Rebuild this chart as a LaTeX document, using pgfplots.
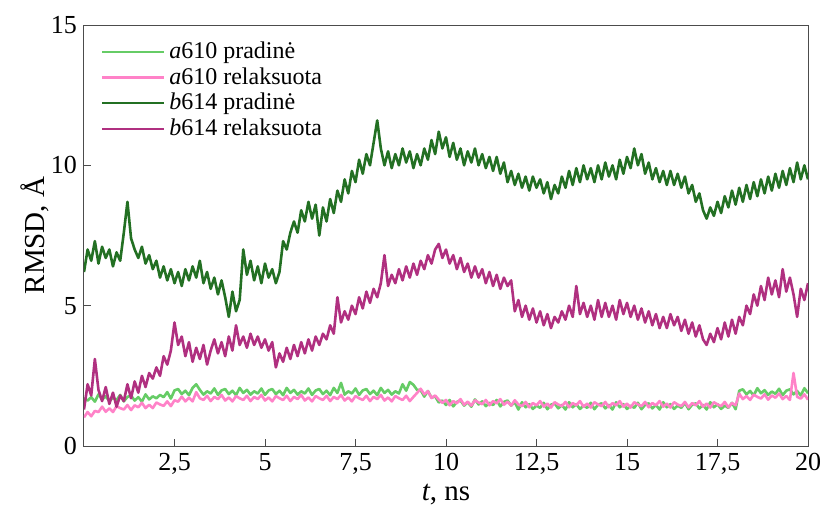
\documentclass[border=0pt]{standalone}
\usepackage{fontspec}
\setmainfont{Liberation Serif}
\usepackage{pgfplots}
\usepackage{pgfplotstable}
\pgfplotsset{compat=1.18}

\definecolor{aPrad}{RGB}{102,204,102}
\definecolor{aRel}{RGB}{255,130,200}
\definecolor{bPrad}{RGB}{35,112,35}
\definecolor{bRel}{RGB}{176,48,128}

% RMSD (angstrom) vs simulation time t (ns)
\pgfplotstableread{
t     a1    a2    b1    b2
0.0   1.70  1.02  6.2   1.3
0.1   1.62  1.21  7.0   2.2
0.2   1.74  1.06  6.6   1.8
0.3   1.58  1.25  7.3   3.1
0.4   1.84  1.21  6.5   2.0
0.5   1.66  1.40  7.1   1.6
0.6   1.77  1.22  6.7   2.1
0.7   1.60  1.34  7.0   1.5
0.8   1.72  1.21  6.4   1.9
0.9   1.64  1.42  6.9   1.4
1.0   1.82  1.35  6.6   1.8
1.1   1.59  1.30  7.6   1.6
1.2   1.75  1.46  8.7   2.2
1.3   1.80  1.28  7.4   1.7
1.4   1.62  1.45  7.0   2.3
1.5   1.74  1.38  6.7   1.9
1.6   1.58  1.54  7.1   2.5
1.7   1.84  1.35  6.5   2.1
1.8   1.66  1.47  6.8   2.6
1.9   1.77  1.35  6.3   2.4
2.0   1.70  1.55  6.6   2.8
2.1   1.82  1.48  6.0   2.5
2.2   1.74  1.43  6.4   3.2
2.3   1.92  1.59  5.9   2.9
2.4   1.69  1.42  6.3   3.4
2.5   1.98  1.63  5.8   4.4
2.6   2.03  1.58  6.2   3.6
2.7   1.85  1.76  5.7   3.9
2.8   1.97  1.59  6.3   3.2
2.9   1.81  1.72  5.9   3.7
3.0   2.07  1.59  6.4   3.0
3.1   2.20  1.92  6.0   3.5
3.2   2.00  1.70  6.6   3.1
3.3   1.83  1.64  5.8   3.6
3.4   1.95  1.79  6.2   2.9
3.5   1.87  1.60  5.6   3.4
3.6   2.05  1.75  6.0   3.8
3.7   1.82  1.67  5.4   3.3
3.8   1.98  1.82  5.9   3.7
3.9   2.03  1.62  5.3   3.2
4.0   1.85  1.73  4.6   3.9
4.1   1.97  1.59  5.5   3.4
4.2   1.81  1.78  4.8   4.3
4.3   2.07  1.70  5.2   3.6
4.4   1.89  1.64  7.0   3.9
4.5   2.00  1.79  6.1   3.5
4.6   1.83  1.60  6.6   4.0
4.7   1.95  1.75  5.9   3.6
4.8   1.87  1.67  6.4   3.9
4.9   2.05  1.82  5.8   3.5
5.0   1.82  1.62  6.5   3.8
5.1   1.98  1.73  6.0   3.4
5.2   2.03  1.59  6.3   3.7
5.3   1.85  1.78  5.8   2.8
5.4   1.97  1.70  6.2   3.3
5.5   1.81  1.64  7.3   3.0
5.6   2.07  1.79  7.0   3.5
5.7   1.89  1.60  7.6   3.1
5.8   2.00  1.75  8.0   3.6
5.9   1.83  1.67  7.6   3.2
6.0   1.95  1.82  8.4   3.7
6.1   1.87  1.62  8.0   3.3
6.2   2.05  1.73  8.7   3.8
6.3   1.82  1.59  8.1   3.4
6.4   1.98  1.78  8.6   3.9
6.5   2.03  1.70  7.5   3.6
6.6   1.85  1.64  8.5   4.0
6.7   1.97  1.79  8.0   3.8
6.8   1.81  1.60  8.8   4.3
6.9   2.07  1.75  8.3   4.0
7.0   1.89  1.67  9.1   5.3
7.1   2.25  1.82  8.7   4.4
7.2   1.83  1.62  9.5   4.8
7.3   1.95  1.73  9.0   4.5
7.4   1.87  1.59  9.8   5.0
7.5   2.05  1.78  9.4   4.7
7.6   1.82  1.70  10.2  5.3
7.7   1.98  1.64  9.7   4.9
7.8   2.03  1.79  10.4  5.5
7.9   1.85  1.60  10.0  5.1
8.0   1.97  1.75  10.8  5.6
8.1   1.81  1.67  11.6  5.3
8.2   2.07  1.82  10.6  5.8
8.3   1.89  1.62  10.0  6.8
8.4   2.00  1.73  10.5  5.7
8.5   1.83  1.59  9.9   6.1
8.6   1.95  1.78  10.4  5.8
8.7   1.87  1.70  10.0  6.3
8.8   2.20  1.64  10.6  5.9
8.9   1.97  1.79  10.1  6.4
9.0   2.28  1.60  10.5  6.0
9.1   2.18  1.75  9.9   6.5
9.2   2.00  1.89  10.4  6.1
9.3   1.99  2.04  10.0  6.6
9.4   1.76  1.84  10.6  6.3
9.5   1.96  1.95  10.2  6.8
9.6   1.72  1.71  10.9  6.5
9.7   1.77  1.80  10.4  7.0
9.8   1.55  1.65  11.2  7.2
9.9   1.62  1.54  10.6  6.7
10.0  1.46  1.64  11.0  7.0
10.1  1.64  1.45  10.3  6.5
10.2  1.41  1.60  10.8  6.8
10.3  1.57  1.52  10.2  6.3
10.4  1.62  1.67  10.6  6.7
10.5  1.44  1.47  10.0  6.2
10.6  1.56  1.58  10.5  6.5
10.7  1.40  1.44  10.1  6.0
10.8  1.66  1.63  10.6  6.4
10.9  1.48  1.55  10.0  6.0
11.0  1.59  1.49  10.4  6.3
11.1  1.42  1.64  9.9   5.8
11.2  1.54  1.45  10.3  6.2
11.3  1.46  1.60  9.8   5.7
11.4  1.64  1.52  10.3  6.1
11.5  1.41  1.67  9.7   5.6
11.6  1.57  1.47  10.1  6.0
11.7  1.62  1.58  9.4   5.7
11.8  1.44  1.44  9.8   5.9
11.9  1.56  1.63  9.3   4.8
12.0  1.30  1.48  9.7   5.2
12.1  1.56  1.42  9.2   4.6
12.2  1.38  1.57  9.6   5.0
12.3  1.49  1.38  9.1   4.5
12.4  1.32  1.53  9.6   4.9
12.5  1.44  1.45  9.2   4.4
12.6  1.36  1.60  9.5   4.8
12.7  1.54  1.40  9.0   4.3
12.8  1.31  1.51  9.4   4.7
12.9  1.47  1.37  8.8   4.2
13.0  1.52  1.56  9.3   4.6
13.1  1.34  1.48  9.0   4.4
13.2  1.46  1.42  9.6   4.8
13.3  1.30  1.57  9.2   4.5
13.4  1.56  1.38  9.8   5.0
13.5  1.38  1.53  9.3   4.6
13.6  1.49  1.45  9.9   5.7
13.7  1.32  1.60  9.4   4.7
13.8  1.44  1.40  10.0  5.1
13.9  1.36  1.51  9.5   4.6
14.0  1.54  1.37  9.9   5.0
14.1  1.31  1.56  9.4   4.5
14.2  1.47  1.48  10.0  5.2
14.3  1.52  1.42  9.5   4.6
14.4  1.34  1.57  10.1  5.1
14.5  1.46  1.38  9.6   4.6
14.6  1.30  1.53  10.0  5.0
14.7  1.56  1.45  9.5   4.5
14.8  1.38  1.60  10.2  5.2
14.9  1.49  1.40  9.7   4.7
15.0  1.32  1.51  10.3  5.1
15.1  1.44  1.37  9.9   4.6
15.2  1.36  1.56  10.6  5.0
15.3  1.54  1.48  10.0  4.5
15.4  1.31  1.42  10.4  4.9
15.5  1.47  1.57  9.7   4.4
15.6  1.52  1.38  10.1  4.8
15.7  1.34  1.53  9.5   4.3
15.8  1.46  1.45  9.9   4.7
15.9  1.30  1.60  9.4   4.2
16.0  1.56  1.40  9.8   4.6
16.1  1.38  1.51  9.3   4.2
16.2  1.49  1.37  9.8   4.7
16.3  1.32  1.56  9.3   4.3
16.4  1.44  1.48  9.7   4.6
16.5  1.36  1.42  9.2   4.1
16.6  1.54  1.57  9.6   4.5
16.7  1.31  1.38  9.0   4.0
16.8  1.47  1.53  9.3   4.4
16.9  1.52  1.45  8.7   3.9
17.0  1.34  1.60  9.0   4.3
17.1  1.46  1.40  8.4   3.8
17.2  1.30  1.51  8.1   3.6
17.3  1.56  1.37  8.5   4.0
17.4  1.38  1.56  8.2   3.7
17.5  1.49  1.48  8.7   4.2
17.6  1.32  1.42  8.3   3.8
17.7  1.44  1.57  8.9   4.4
17.8  1.36  1.38  8.5   3.9
17.9  1.54  1.53  9.1   4.5
18.0  1.31  1.45  8.6   4.0
18.1  1.97  1.87  9.2   4.6
18.2  2.02  1.67  8.7   4.3
18.3  1.84  1.78  9.3   5.0
18.4  1.96  1.64  8.8   4.7
18.5  1.80  1.83  9.4   5.4
18.6  2.06  1.75  8.9   5.0
18.7  1.88  1.69  9.5   5.7
18.8  1.99  1.84  9.0   5.2
18.9  1.82  1.65  9.6   6.0
19.0  1.94  1.80  9.1   5.4
19.1  1.86  1.72  9.7   5.9
19.2  2.04  1.87  9.2   5.3
19.3  1.81  1.67  9.8   6.3
19.4  1.97  1.78  9.3   5.5
19.5  2.02  1.64  9.9   6.0
19.6  1.84  2.60  9.4   5.4
19.7  1.96  1.75  10.1  4.6
19.8  1.80  1.69  9.5   5.6
19.9  2.06  1.84  10.0  5.2
20.0  1.88  1.65  9.5   5.8
}\rmsd

\begin{document}
\begin{tikzpicture}
\begin{axis}[
  scale only axis,
  width=362pt, height=210.5pt,
  xmin=0, xmax=20, ymin=0, ymax=15,
  xtick={2.5,5,7.5,10,12.5,15,17.5,20},
  xticklabels={{2,5},5,{7,5},10,{12,5},15,{17,5},20},
  ytick={0,5,10,15},
  tick align=inside,
  xtick pos=bottom, ytick pos=left,
  major tick length=3.5pt,
  axis line style={black!70, line width=0.5pt},
  tick style={black!70, line width=0.5pt},
  /pgf/number format/assume math mode=true,
  ticklabel style={font=\fontsize{13}{15}\selectfont},
  label style={font=\fontsize{14.5}{17}\selectfont},
  xlabel={\textit{t}, ns},
  ylabel={RMSD, Å},
  xlabel style={at={(axis description cs:0.5,-0.1164)}, anchor=center},
  ylabel style={at={(axis description cs:-0.0677,0.5)}, anchor=center},
  legend style={draw=none, fill=none,
    at={(axis description cs:0.02,0.975)}, anchor=north west,
    font=\fontsize{12}{14}\selectfont, row sep=-1pt,
    inner sep=1pt},
  legend cell align=left,
  legend image code/.code={\draw[#1, line width=1.2pt] (0pt,0pt) -- (31pt,0pt);},
  every axis plot/.append style={line width=1.3pt, line join=round},
]
\addplot[aPrad, no marks] table[x=t, y=a1] {\rmsd};
\addlegendentry{\textit{a}610 pradinė}
\addplot[aRel, no marks] table[x=t, y=a2] {\rmsd};
\addlegendentry{\textit{a}610 relaksuota}
\addplot[bPrad, no marks] table[x=t, y=b1] {\rmsd};
\addlegendentry{\textit{b}614 pradinė}
\addplot[bRel, no marks] table[x=t, y=b2] {\rmsd};
\addlegendentry{\textit{b}614 relaksuota}
\end{axis}
\pgfresetboundingbox
\path ([shift={(-42pt,-37pt)}]current axis.south west) rectangle ([shift={(8pt,12.5pt)}]current axis.north east);
\end{tikzpicture}
\end{document}
